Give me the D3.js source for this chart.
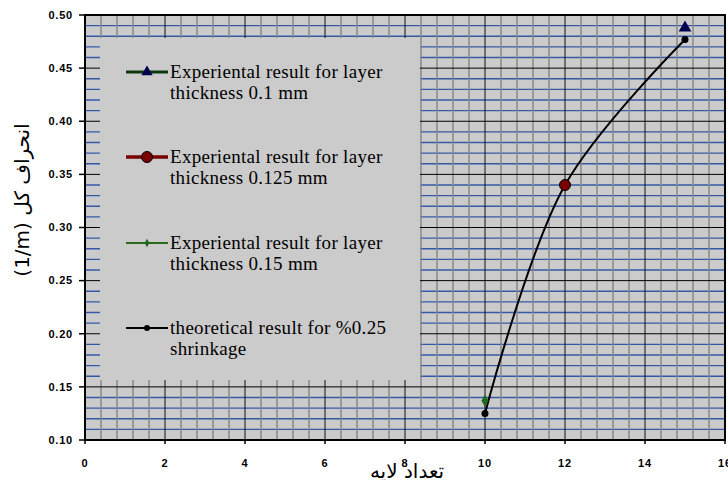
<!DOCTYPE html>
<html>
<head>
<meta charset="utf-8">
<script src="https://cdn.jsdelivr.net/npm/d3@7"></script>
<style>
  body { margin: 0; background: #fff; }
  svg { display: block; }
</style>
</head>
<body>
<div id="chart"></div>
<script>
// layer count vs deflection, 4 series
const layers = [10, 12, 15];

const seriesNames = [
    'Experiental result for layer|thickness 0.1 mm',
    'Experiental result for layer|thickness 0.125 mm',
    'Experiental result for layer|thickness 0.15 mm',
    'theoretical result for %0.25|shrinkage'
];

const exp01 = [{ x: 15, y: 0.488 }];
const exp0125 = [{ x: 12, y: 0.340 }];
const exp015 = [{ x: 10, y: 0.137 }];
const theory = [0.125, 0.340, 0.477];

const xTicks = [0, 2, 4, 6, 8, 10, 12, 14, 16];
const yTicks = [0.10, 0.15, 0.20, 0.25, 0.30, 0.35, 0.40, 0.45, 0.50];

const xTitle = 'تعداد لایه';
const yTitle = 'انحراف کل \u2066(1/m)\u2069';

const width = 728, height = 480;
const plotL = 85, plotR = 725, plotT = 15, plotB = 440;

const x = d3.scaleLinear().domain([0, 16]).range([plotL, plotR]);
const y = d3.scaleLinear().domain([0.10, 0.50]).range([plotB, plotT]);

const svg = d3.select('#chart')
    .append('svg')
    .attr('width', width)
    .attr('height', height);

// plot background
svg.append('rect')
    .attr('x', plotL).attr('y', plotT)
    .attr('width', plotR - plotL).attr('height', plotB - plotT)
    .attr('fill', '#cbcbcb');

const grid = svg.append('g');

// minor horizontal lines every 0.01
grid.selectAll('line.hmin')
    .data(d3.range(11, 50).map(d => d / 100).filter(d => Math.round(d * 100) % 5 !== 0))
    .join('line')
    .attr('x1', plotL).attr('x2', plotR)
    .attr('y1', d => y(d)).attr('y2', d => y(d))
    .attr('stroke', '#3558a6')
    .attr('stroke-width', 1.3);

// minor vertical lines every 0.4
grid.selectAll('line.vmin')
    .data(d3.range(1, 40).map(d => d * 0.4).filter(d => Math.abs(d / 2 - Math.round(d / 2)) > 0.01))
    .join('line')
    .attr('x1', d => x(d)).attr('x2', d => x(d))
    .attr('y1', plotT).attr('y2', plotB)
    .attr('stroke', '#888')
    .attr('stroke-width', 1.5);

// major lines
grid.selectAll('line.hmaj')
    .data(yTicks.slice(1, -1))
    .join('line')
    .attr('x1', plotL).attr('x2', plotR)
    .attr('y1', d => y(d)).attr('y2', d => y(d))
    .attr('stroke', '#000')
    .attr('stroke-width', 1);

grid.selectAll('line.vmaj')
    .data(xTicks.slice(1, -1))
    .join('line')
    .attr('x1', d => x(d)).attr('x2', d => x(d))
    .attr('y1', plotT).attr('y2', plotB)
    .attr('stroke', '#111')
    .attr('stroke-width', 1);

// frame
svg.append('rect')
    .attr('x', plotL).attr('y', plotT)
    .attr('width', plotR - plotL).attr('height', plotB - plotT)
    .attr('fill', 'none')
    .attr('stroke', '#000')
    .attr('stroke-width', 2);

// ticks
svg.append('g').selectAll('line')
    .data(yTicks)
    .join('line')
    .attr('x1', plotL - 6).attr('x2', plotL)
    .attr('y1', d => y(d)).attr('y2', d => y(d))
    .attr('stroke', '#000').attr('stroke-width', 1.5);

svg.append('g').selectAll('line')
    .data(xTicks)
    .join('line')
    .attr('x1', d => x(d)).attr('x2', d => x(d))
    .attr('y1', plotB).attr('y2', plotB + 4)
    .attr('stroke', '#000').attr('stroke-width', 1.5);

svg.append('g').selectAll('text')
    .data(yTicks)
    .join('text')
    .attr('x', plotL - 12)
    .attr('y', d => y(d))
    .attr('dy', '0.35em')
    .attr('text-anchor', 'end')
    .attr('font-family', 'Liberation Sans, Arial, sans-serif')
    .attr('font-weight', 'bold')
    .attr('font-size', 11)
    .attr('letter-spacing', 0.8)
    .text(d => d.toFixed(2));

svg.append('g').selectAll('text')
    .data(xTicks)
    .join('text')
    .attr('x', d => x(d))
    .attr('y', plotB + 27)
    .attr('text-anchor', 'middle')
    .attr('font-family', 'Liberation Sans, Arial, sans-serif')
    .attr('font-weight', 'bold')
    .attr('font-size', 11)
    .attr('letter-spacing', 0.8)
    .text(d => d);

// axis titles
svg.append('text')
    .attr('x', 407)
    .attr('y', 478)
    .attr('text-anchor', 'middle')
    .attr('direction', 'rtl')
    .attr('font-family', 'DejaVu Sans, Noto Sans, sans-serif')
    .attr('font-size', 20)
    .text(xTitle);

svg.append('text')
    .attr('transform', `translate(29, 200) rotate(-90)`)
    .attr('text-anchor', 'middle')
    .attr('direction', 'rtl')
    .attr('font-family', 'DejaVu Sans, Noto Sans, sans-serif')
    .attr('font-size', 20)
    .text(yTitle);

// theoretical curve
const line = d3.line()
    .x(d => x(d[0]))
    .y(d => y(d[1]))
    .curve(d3.curveCatmullRom.alpha(0.5));

svg.append('path')
    .datum(layers.map((l, i) => [l, theory[i]]))
    .attr('d', line)
    .attr('fill', 'none')
    .attr('stroke', '#000')
    .attr('stroke-width', 2);

svg.append('g').selectAll('circle')
    .data(layers.map((l, i) => [l, theory[i]]))
    .join('circle')
    .attr('cx', d => x(d[0]))
    .attr('cy', d => y(d[1]))
    .attr('r', 3.5)
    .attr('fill', '#000');

// experimental points
const tri = d3.symbol().type(d3.symbolTriangle).size(70);
const dia = d3.symbol().type(d3.symbolDiamond).size(45);

svg.append('g').selectAll('path')
    .data(exp01)
    .join('path')
    .attr('transform', d => `translate(${x(d.x)},${y(d.y)})`)
    .attr('d', tri)
    .attr('fill', '#000050');

svg.append('g').selectAll('circle')
    .data(exp0125)
    .join('circle')
    .attr('cx', d => x(d.x))
    .attr('cy', d => y(d.y))
    .attr('r', 5.5)
    .attr('fill', '#7a0000')
    .attr('stroke', '#000')
    .attr('stroke-width', 1);

svg.append('g').selectAll('path')
    .data(exp015)
    .join('path')
    .attr('transform', d => `translate(${x(d.x)},${y(d.y)})`)
    .attr('d', dia)
    .attr('fill', '#1e6a1e');

// legend box covering the grid
const lg = svg.append('g');
lg.append('rect')
    .attr('x', 100).attr('y', 38)
    .attr('width', 320).attr('height', 342)
    .attr('fill', '#cbcbcb');

const legendRows = [
    { color: '#0b3a0b', w: 3, marker: 'tri', fill: '#000050' },
    { color: '#7a0000', w: 3.5, marker: 'circle', fill: '#7a0000' },
    { color: '#2a6a1a', w: 2, marker: 'dia', fill: '#1e6a1e' },
    { color: '#000', w: 2, marker: 'dot', fill: '#000' }
];
const rowY = [72, 157, 243, 328];

legendRows.forEach((r, i) => {
    const g = lg.append('g').attr('transform', `translate(0, ${rowY[i]})`);
    g.append('line')
        .attr('x1', 126).attr('x2', 168)
        .attr('stroke', r.color).attr('stroke-width', r.w);
    if (r.marker === 'tri') {
        g.append('path').attr('transform', 'translate(147,0)').attr('d', d3.symbol().type(d3.symbolTriangle).size(55)).attr('fill', r.fill);
    } else if (r.marker === 'circle') {
        g.append('circle').attr('cx', 147).attr('r', 5.5).attr('fill', r.fill).attr('stroke', '#000').attr('stroke-width', 1);
    } else if (r.marker === 'dia') {
        g.append('path').attr('transform', 'translate(147,0)').attr('d', d3.symbol().type(d3.symbolDiamond).size(20)).attr('fill', r.fill);
    } else {
        g.append('circle').attr('cx', 147).attr('r', 3).attr('fill', r.fill);
    }
    const parts = seriesNames[i].split('|');
    const t = g.append('text')
        .attr('font-family', 'Liberation Serif, Times New Roman, serif')
        .attr('font-size', 19)
        .attr('letter-spacing', 0.3)
        .attr('fill', '#000');
    parts.forEach((p, j) => {
        t.append('tspan').attr('x', 170).attr('y', 6 + j * 21).text(p);
    });
});
</script>
</body>
</html>
